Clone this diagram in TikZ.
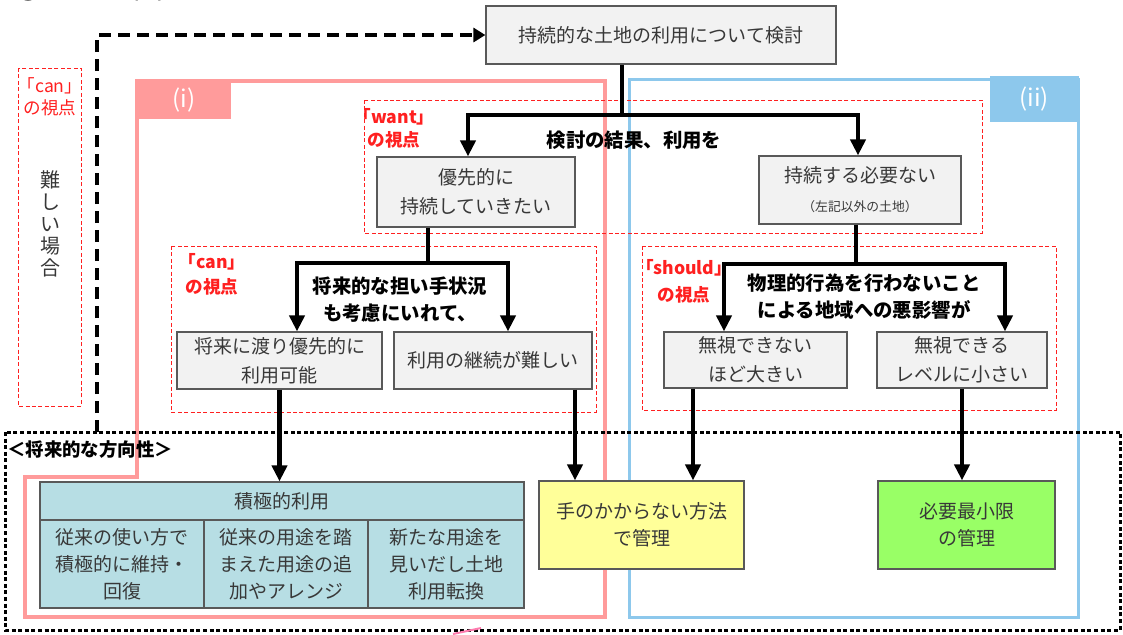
\documentclass[tikz,border=0pt]{standalone}
\usepackage{fontspec}
\setmainfont{Noto Sans CJK JP}
\usetikzlibrary{arrows.meta}
\definecolor{pinkc}{HTML}{FF9B9B}
\definecolor{bluec}{HTML}{8DC8EC}
\definecolor{redc}{HTML}{FF2020}
\definecolor{boxfill}{HTML}{F2F2F2}
\definecolor{boxdraw}{HTML}{595959}
\definecolor{tealc}{HTML}{B7DEE4}
\definecolor{yellowc}{HTML}{FFFF99}
\definecolor{greenc}{HTML}{99FF66}
\definecolor{txt}{HTML}{383838}
\begin{document}
\begin{tikzpicture}[x=0.5pt,y=-0.5pt,
  box/.style={draw=boxdraw, line width=0.6pt, fill=boxfill, text=txt, align=center, inner sep=0pt, font=\fontsize{9.5}{14.5}\selectfont},
  outbox/.style={draw=boxdraw, line width=0.6pt, text=txt, align=center, inner sep=0pt, font=\fontsize{9.5}{13.5}\selectfont},
  flow/.style={line width=2.2pt, -{Triangle[width=7.5pt,length=8pt]}},
  trunk/.style={line width=2.2pt},
  view/.style={draw=redc, dash pattern=on 2pt off 1.2pt, line width=0.5pt},
  vlabel/.style={text=redc, align=center, inner sep=0pt},
  vert/.style={text=txt, align=center, inner sep=0pt, font=\fontsize{10}{11}\selectfont},
  cond/.style={font=\fontsize{9.7}{13.5}\selectfont\bfseries, align=center, inner sep=0pt},
  tabtext/.style={text=white, font=\fontsize{12}{13}\selectfont, inner sep=0pt},
]
\useasboundingbox (0,0) rectangle (1123,634);

% cut-off title (only its lower edge is visible, as in the reference)
\node[anchor=base west, font=\fontsize{15}{15}\selectfont, inner sep=0pt] (title) at (13,-2) {③フロー図};

% region (i) and (ii)
\draw[pinkc, line width=2pt] (137,81) -- (605,81) -- (605,617) -- (25,617) -- (25,477) -- (137,477) -- cycle;
\fill[pinkc] (136,79) rectangle (231,119);
\node[tabtext] (ti) at (184,100) {(i)};
\draw[bluec, line width=1.5pt] (629,79) -- (1078,79) -- (1078,617) -- (629,617) -- cycle;
\fill[bluec] (990,76) rectangle (1079,122);
\node[tabtext] (tii) at (1034,99) {(ii)};

% viewpoint frames
\draw[view] (18,68) rectangle (81,406);
\draw[view] (364,100) rectangle (982,233);
\draw[view] (171,246) rectangle (596,412);
\draw[view] (642,246) rectangle (1056,410);
\node[vlabel, font=\fontsize{8.8}{11}\selectfont] (l0) at (50,97) {「can」\\の視点};
\node[vert] (lv1) at (50,224) {難\\し\\い\\場\\合};
\node[vlabel, font=\fontsize{8.8}{11.5}\selectfont\bfseries] (l1) at (394,128) {「want」\\の視点};
\node[vlabel, font=\fontsize{8.8}{12.5}\selectfont\bfseries] (l2) at (212,274) {「can」\\の視点};
\node[vlabel, font=\fontsize{8.8}{13.5}\selectfont\bfseries] (l3) at (684,281) {「should」\\の視点};

% future direction frame
\draw[line width=1.5pt, dash pattern=on 2pt off 1.3pt] (5,432) rectangle (1120,630);
\node[anchor=west, font=\fontsize{9.2}{11}\selectfont\bfseries, inner sep=0pt] (fut) at (7,450) {＜将来的な方向性＞};

% boxes
\node[box, minimum width=175pt, minimum height=29pt] (top) at (661,35) {持続的な土地の利用について検討};
\node[box, minimum width=99pt, minimum height=35pt] (A) at (476,192) {優先的に\\持続していきたい};
\node[box, minimum width=101pt, minimum height=34pt] (B) at (860,190) {持続する必要ない\\{\fontsize{6.4}{9}\selectfont（左記以外の土地）}};
\node[box, minimum width=102.5pt, minimum height=28.5pt] (C) at (279.5,360.5) {将来に渡り優先的に\\利用可能};
\node[box, minimum width=99pt, minimum height=28.5pt] (D) at (493,360.5) {利用の継続が難しい};
\node[box, minimum width=91.5pt, minimum height=28pt] (E) at (755.5,360) {無視できない\\ほど大きい};
\node[box, minimum width=85pt, minimum height=28pt] (F) at (962,360) {無視できる\\レベルに小さい};

% condition labels
\node[cond] (c1) at (634,140) {検討の結果、利用を};
\node[cond] (c2) at (400,300) {将来的な担い手状況\\も考慮にいれて、};
\node[cond] (c3) at (864,297) {物理的行為を行わないこと\\による地域への悪影響が};

% outcome boxes
\node[outbox, fill=tealc, minimum width=242pt, minimum height=19pt] (T) at (282,501) {積極的利用};
\node[outbox, fill=tealc, minimum width=82pt, minimum height=44pt] (T1) at (122,564) {従来の使い方で\\積極的に維持・\\回復};
\node[outbox, fill=tealc, minimum width=82pt, minimum height=44pt] (T2) at (286,564) {従来の用途を踏\\まえた用途の追\\加やアレンジ};
\node[outbox, fill=tealc, minimum width=78pt, minimum height=44pt] (T3) at (446,564) {新たな用途を\\見いだし土地\\利用転換};
\node[outbox, fill=yellowc, minimum width=102.5pt, minimum height=44pt] (Y) at (641.5,525) {手のかからない方法\\で管理};
\node[outbox, fill=greenc, minimum width=88.5pt, minimum height=44pt] (G) at (966.5,525) {必要最小限\\の管理};

% helper x positions
\coordinate (xt) at (622,0);
\coordinate (xa) at (468,0);
\coordinate (xb) at (858,0);
\coordinate (xaa) at (428,0);
\coordinate (xc) at (297,0);
\coordinate (xd0) at (508,0);
\coordinate (xbb) at (856,0);
\coordinate (xe0) at (724,0);
\coordinate (xf0) at (1005,0);
\coordinate (xd) at (575,0);
\coordinate (xe) at (693,0);
\coordinate (j1) at (622,115);
\coordinate (j2) at (428,263);
\coordinate (j3) at (856,264);
\coordinate (d0) at (97,432);

% dashed feedback
\draw[line width=2pt, dash pattern=on 6pt off 3.5pt, -{Triangle[width=7pt,length=6pt]}] (d0) |- (top.west);

% connectors
\draw[trunk] (xt |- top.south) -- (j1);
\draw[flow] (j1) -| (xa |- A.north);
\draw[flow] (j1) -| (xb |- B.north);
\draw[trunk] (xaa |- A.south) -- (j2);
\draw[flow] (j2) -| (xc |- C.north);
\draw[flow] (j2) -| (xd0 |- D.north);
\draw[trunk] (xbb |- B.south) -- (j3);
\draw[flow] (j3) -| (xe0 |- E.north);
\draw[flow] (j3) -| (xf0 |- F.north);
\draw[flow] (C.south) -- (C.south |- T.north);
\draw[flow] (xd |- D.south) -- (xd |- Y.north);
\draw[flow] (xe |- E.south) -- (xe |- Y.north);
\draw[flow] (F.south) -- (F.south |- G.north);

% small pink mark at bottom edge
\draw[pinkc!80!magenta, line width=1pt] (453,634) -- (481,628);
\end{tikzpicture}
\end{document}
